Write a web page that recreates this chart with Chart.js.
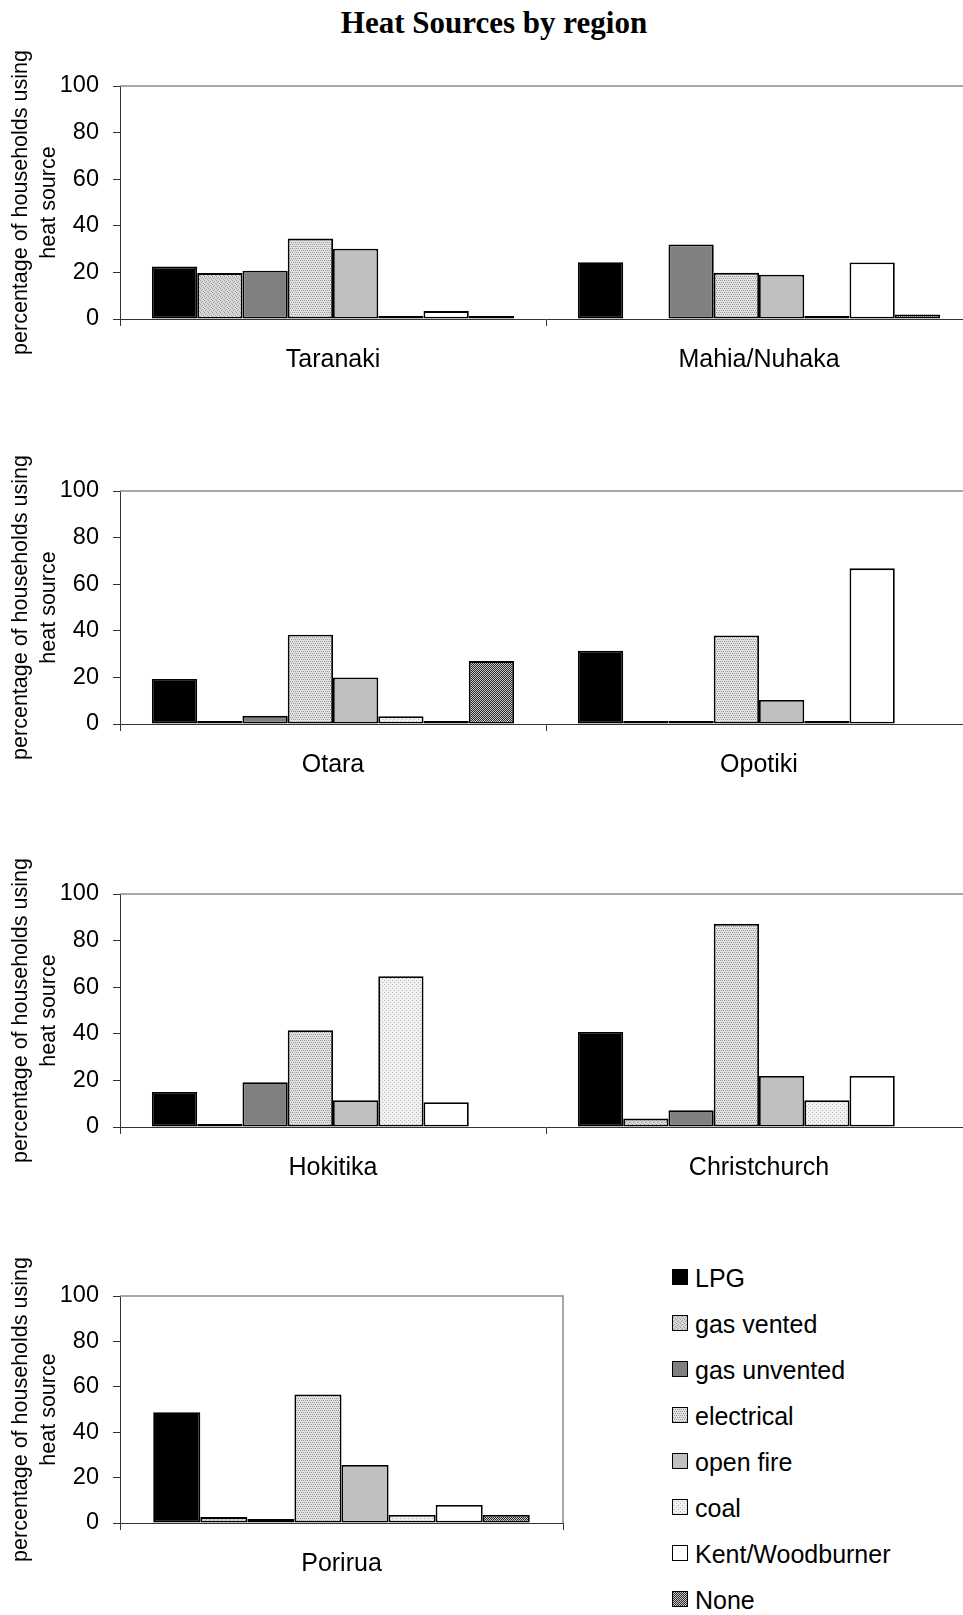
<!DOCTYPE html>
<html>
<head>
<meta charset="utf-8">
<title>Heat Sources by region</title>
<script src="https://cdn.jsdelivr.net/npm/chart.js@4.4.1/dist/chart.umd.min.js"></script>
<style>
    html, body { margin: 0; padding: 0; background: #fff; overflow: hidden; }
    #page { position: relative; width: 963px; height: 1615px; overflow: hidden;
            font-family: "Liberation Sans", Arial, sans-serif; color: #000; }
    #title { position: absolute; left: 0; top: 7px; width: 988px; text-align: center;
             font: bold 31px/31px "Liberation Serif", "Times New Roman", serif; }
    .panel { position: absolute; left: 0; }
    .swatch { position: absolute; left: 672px; }
    .legend-text { position: absolute; left: 695px; font-size: 25px; line-height: 25px; white-space: nowrap; }
</style>
</head>
<body>
<div id="page">
    <div id="title">Heat Sources by region</div>
    <canvas id="panel1" class="panel" width="980" height="339" style="top:40px"></canvas>
    <canvas id="panel2" class="panel" width="980" height="339" style="top:445px"></canvas>
    <canvas id="panel3" class="panel" width="980" height="339" style="top:848px"></canvas>
    <canvas id="panel4" class="panel" width="570" height="333" style="top:1250px"></canvas>
    <div id="legend"></div>
</div>
<script>
// Heat sources by region - percentage of households using each heat source

const regions = ['Taranaki', 'Mahia/Nuhaka', 'Otara', 'Opotiki', 'Hokitika', 'Christchurch', 'Porirua'];
const seriesNames = ['LPG', 'gas vented', 'gas unvented', 'electrical', 'open fire', 'coal', 'Kent/Woodburner', 'None'];
const yTicks = [0, 20, 40, 60, 80, 100];

// values per heat source, in the order of regions
const lpg         = [22.5, 24.4, 19.3, 31.4, 15.0, 40.8, 48.8];
const gasVented   = [19.7, null, 0.7, 0.9, 1.1, 3.6, 2.6];
const gasUnvented = [20.7, 32.0, 3.5, 0.7, 19.2, 7.2, 1.8];
const electrical  = [34.5, 19.8, 38.3, 38.0, 41.5, 87.1, 56.6];
const openFire    = [30.2, 19.0, 20.0, 10.3, 11.5, 21.9, 25.6];
const coal        = [0.7, 0.8, 3.3, 0.7, 64.7, 11.5, 3.5];
const kent        = [3.4, 24.3, 0.7, 66.8, 10.6, 21.9, 7.9];
const noHeat      = [0.8, 1.9, 27.0, null, null, null, 3.5];

const seriesValues = [lpg, gasVented, gasUnvented, electrical, openFire, coal, kent, noHeat];

// Small repeating tiles for the dotted fills
function makeTile(size, base, dots) {
    const c = document.createElement('canvas');
    c.width = size;
    c.height = size;
    const g = c.getContext('2d');
    g.fillStyle = base;
    g.fillRect(0, 0, size, size);
    dots.forEach(([x, y, col]) => {
        g.fillStyle = col;
        g.fillRect(x, y, 1, 1);
    });
    return g.createPattern(c, 'repeat');
}

const fills = [
    '#000000',
    makeTile(4, '#d8d8d8', [[0, 0, '#969696'], [2, 1, '#a8a8a8'], [1, 2, '#969696'], [3, 3, '#a8a8a8']]),
    '#808080',
    makeTile(4, '#e2e2e2', [[0, 0, '#999'], [2, 0, '#999'], [1, 2, '#999'], [3, 2, '#999']]),
    '#c0c0c0',
    makeTile(4, '#f0f0f0', [[0, 0, '#b8b8b8'], [2, 2, '#b8b8b8']]),
    '#ffffff',
    makeTile(2, '#cccccc', [[0, 0, '#262626'], [1, 1, '#262626']])
];

// gray frame on the top and right of the plot area
const frame = {
    id: 'frame',
    beforeDatasetsDraw(chart) {
        const a = chart.chartArea;
        const ctx = chart.ctx;
        ctx.save();
        ctx.strokeStyle = '#8a8a8a';
        ctx.lineWidth = 1.5;
        ctx.beginPath();
        ctx.moveTo(a.left, a.top);
        ctx.lineTo(a.right, a.top);
        ctx.lineTo(a.right, a.bottom);
        ctx.stroke();
        ctx.restore();
    }
};

Chart.defaults.font.family = '"Liberation Sans", Arial, sans-serif';
Chart.defaults.color = '#000';

function makeChart(canvasId, regionIdx, padRight) {
    const canvas = document.getElementById(canvasId);
    return new Chart(canvas, {
        type: 'bar',
        data: {
            labels: regionIdx.map(i => regions[i]),
            datasets: seriesNames.map((name, s) => ({
                label: name,
                data: regionIdx.map(i => seriesValues[s][i]),
                backgroundColor: fills[s],
                borderColor: '#000',
                borderWidth: 1.8,
                borderSkipped: false,
                minBarLength: 3,
                barPercentage: 1,
                categoryPercentage: 0.85
            }))
        },
        options: {
            responsive: false,
            animation: false,
            layout: { padding: { top: 46, right: padRight, bottom: 0, left: 0 } },
            plugins: {
                legend: { display: false },
                tooltip: { enabled: false }
            },
            scales: {
                x: {
                    grid: { drawOnChartArea: false, tickLength: 7, color: '#333', offset: true },
                    border: { color: '#333', width: 1 },
                    ticks: { font: { size: 25 }, color: '#000', padding: 19, maxRotation: 0 },
                    afterFit(scale) { scale.height = 60; }
                },
                y: {
                    min: 0,
                    max: 100,
                    afterBuildTicks(scale) { scale.ticks = yTicks.map(v => ({ value: v })); },
                    grid: { drawOnChartArea: false, tickLength: 7, color: '#333' },
                    border: { color: '#333', width: 1 },
                    ticks: { font: { size: 23.5 }, color: '#000', padding: 14 },
                    title: {
                        display: true,
                        text: ['percentage of households using', 'heat source'],
                        font: { size: 21.5, lineHeight: 1.32 },
                        color: '#000',
                        padding: { top: 7, bottom: 0 }
                    },
                    afterFit(scale) { scale.width = 120; }
                }
            }
        },
        plugins: [frame]
    });
}

makeChart('panel1', [0, 1], 8);
makeChart('panel2', [2, 3], 8);
makeChart('panel3', [4, 5], 8);
makeChart('panel4', [6], 7);

// Legend, one row per heat source
const legend = document.getElementById('legend');
seriesNames.forEach((name, s) => {
    const capTop = 1269 + s * 46;
    const sw = document.createElement('canvas');
    sw.width = 16;
    sw.height = 16;
    sw.className = 'swatch';
    sw.style.top = capTop + 'px';
    const g = sw.getContext('2d');
    g.fillStyle = fills[s];
    g.fillRect(0, 0, 16, 16);
    g.strokeStyle = '#000';
    g.lineWidth = 1;
    g.strokeRect(0.5, 0.5, 15, 15);
    legend.appendChild(sw);

    const t = document.createElement('div');
    t.className = 'legend-text';
    t.style.top = (capTop - 3.5) + 'px';
    t.textContent = name;
    legend.appendChild(t);
});
</script>
</body>
</html>
